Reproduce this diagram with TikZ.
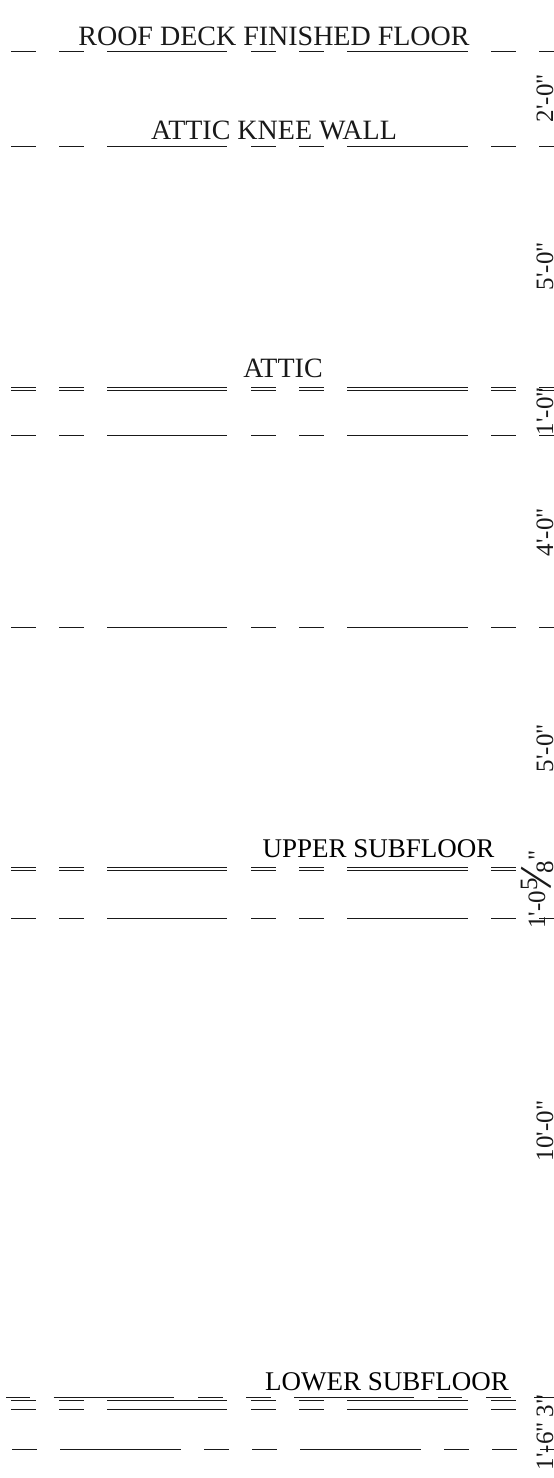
\documentclass[tikz,border=0pt]{standalone}
\usepackage{fontspec}
\setmainfont{Liberation Serif}
\newfontfamily\plainserif{Liberation Serif}
\newcommand{\rowstd}[1]{%
  \foreach \a/\b in {11/35.7,59/83.5,107/227,251/275.6,299/323.7,347/468,491/516,539/554}
    \draw[floorline] (\a,#1) -- (\b,#1);}
\newcommand{\rowcut}[1]{%
  \foreach \a/\b in {11/35.7,59/83.5,107/227,251/275.6,299/323.7,347/468,491/516}
    \draw[floorline] (\a,#1) -- (\b,#1);}
\tikzset{
  floorline/.style={line width=1pt,black!90},
  toplabel/.style={inner sep=0pt,anchor=base,font=\fontsize{28}{28}\selectfont,text=black!90},
  sublabel/.style={inner sep=0pt,anchor=base,font=\fontsize{27}{27}\selectfont,text=black},
  dimlabel/.style={inner sep=0pt,rotate=90,anchor=base,font=\plainserif\fontsize{25}{25}\selectfont,text=black!90}
}
\begin{document}
\begin{tikzpicture}[x=1pt,y=-1pt]
\useasboundingbox (0,0) rectangle (554,1478);
\fill[white] (0,0) rectangle (554,1478);
\rowstd{51.5}
\rowstd{146.5}
\rowstd{387.3}\rowstd{390.3}
\rowstd{435.5}
\rowstd{627}
\rowcut{867.3}\rowcut{870.3}
\rowstd{918}
\foreach \a/\b in {6/30.3,53.7/174,198/222.5,246/270.5,294/414,438/462,486/510.5,534/554}
  \draw[floorline] (\a,1397.7) -- (\b,1397.7);
\rowcut{1400.7}\rowcut{1409.7}
\foreach \a/\b in {12.3/37.3,60.3/181,204/229,252/277,300/421,444/469,492/517,540/554}
  \draw[floorline] (\a,1449.7) -- (\b,1449.7);
\node[toplabel] (roof) at (274,45) {ROOF DECK FINISHED FLOOR};
\node[toplabel] (knee) at (274,139.5) {ATTIC KNEE WALL};
\node[toplabel] (attic) at (283,377.7) {ATTIC};
\node[sublabel] (upper) at (378.5,857) {UPPER SUBFLOOR};
\node[sublabel] (lower) at (387,1390) {LOWER SUBFLOOR};
\node[dimlabel] (d1) at (553,98) {2'-0"};
\node[dimlabel] (d2) at (553,266) {5'-0"};
\node[dimlabel] (d3) at (553,411) {1'-0"};
\node[dimlabel] (d4) at (553,532) {4'-0"};
\node[dimlabel] (d5) at (553,748) {5'-0"};
\node[dimlabel,anchor=base west] (d6) at (545,929) {1'-0\raisebox{8pt}{5}\hspace{-10pt}\rlap{\raisebox{-8pt}{\rotatebox[origin=c]{-14}{\scalebox{2}{/}}}}\hspace{15pt}\raisebox{-8pt}{8}"};
\node[dimlabel] (d7) at (553,1131) {10'-0"};
\node[dimlabel] (d8) at (553,1446) {1'-6"};
\node[dimlabel] (d9) at (553,1406) {3"};
\end{tikzpicture}
\end{document}
